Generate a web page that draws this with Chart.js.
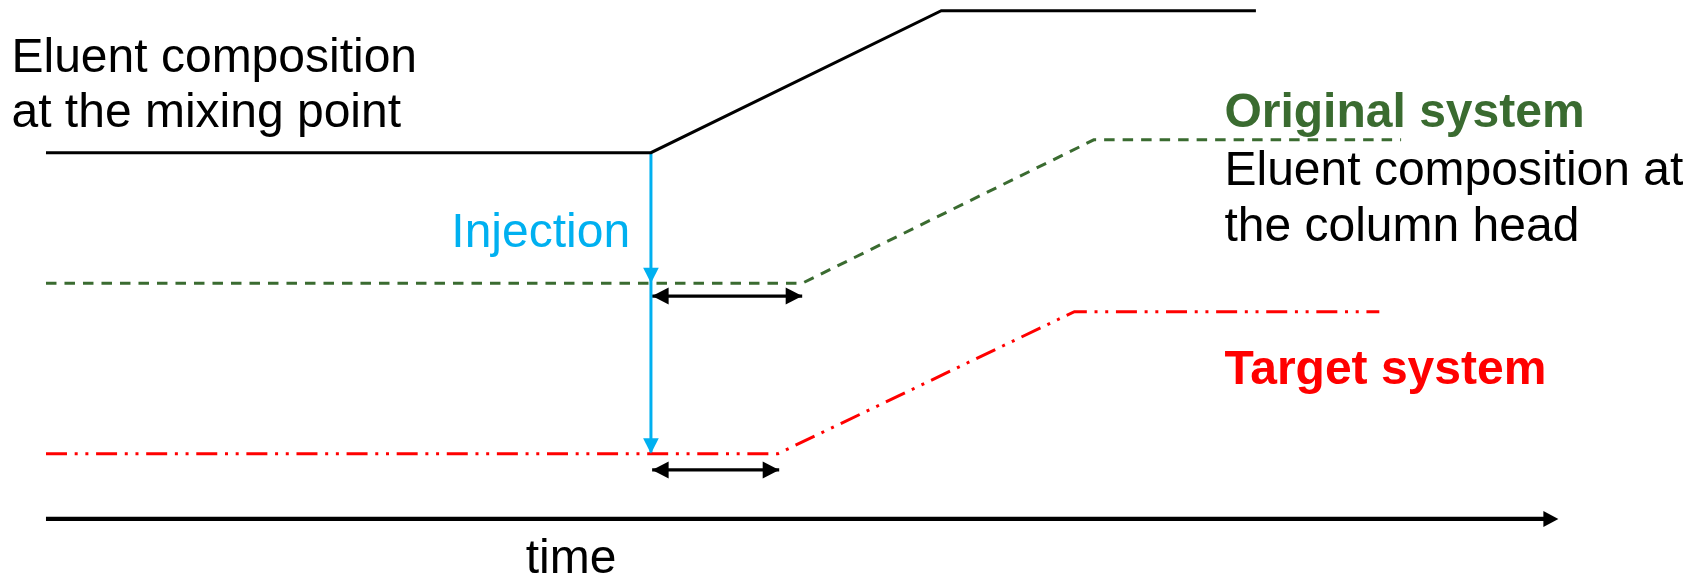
<!DOCTYPE html>
<html>
<head>
<meta charset="utf-8">
<script src="https://cdn.jsdelivr.net/npm/chart.js@4.4.1/dist/chart.umd.min.js"></script>
<style>
  html, body { margin: 0; padding: 0; background: #ffffff; }
  #grafico { display: block; }
</style>
</head>
<body>
<canvas id="grafico" width="1706" height="580"></canvas>
<script>
// ----------------------------------------------------------------------------
// Dados: tempo em unidades arbitrarias, composicao como nivel de exibicao
// (as tres curvas tem o mesmo degrau de 10 unidades, deslocadas na vertical)

const mixTime = [0, 50, 74, 100];
const mixLevel = [25.8, 25.8, 35.8, 35.8];

const originalTime = [0, 62.5, 86.6, 112];
const originalLevel = [16.6, 16.6, 26.7, 26.7];

const targetTime = [0, 60.5, 85, 110.2];
const targetLevel = [4.6, 4.6, 14.6, 14.6];

const injectionTime = 50;
const injectionLevels = [25.8, 16.6, 4.6]; // saida, chegada no original, chegada no alvo

const originalDelay = [50.1, 62.5];
const originalDelayLevel = 15.7;
const targetDelay = [50.1, 60.6];
const targetDelayLevel = 3.45;

const timeAxis = [0, 125];
const timeAxisLevel = 0;

const textos = [
    'Eluent composition',
    'at the mixing point',
    'Original system',
    'Eluent composition at',
    'the column head',
    'Target system',
    'Injection',
    'time'
];

// cores
const PRETO = '#000000';
const VERDE = '#3a6b30';
const VERMELHO = '#ff0000';
const AZUL = '#00b0f0';

function pontos(xs, ys) {
    return xs.map(function (x, i) { return { x: x, y: ys[i] }; });
}

function linhaHorizontal(xs, nivel) {
    return xs.map(function (x) { return { x: x, y: nivel }; });
}

// Plugin simples: desenha as pontas de seta e os textos usando as escalas
const setasETextos = {
    id: 'setasETextos',
    afterDatasetsDraw(chart, args, opts) {
        const ctx = chart.ctx;
        const sx = chart.scales.x;
        const sy = chart.scales.y;

        opts.pontas.forEach(function (p) {
            ctx.save();
            ctx.translate(sx.getPixelForValue(p.x), sy.getPixelForValue(p.y));
            ctx.rotate(p.angulo);
            ctx.beginPath();
            ctx.moveTo(0, 0);
            ctx.lineTo(-p.comp, -p.meia);
            ctx.lineTo(-p.comp, p.meia);
            ctx.closePath();
            ctx.fillStyle = p.cor;
            ctx.fill();
            ctx.restore();
        });

        opts.rotulos.forEach(function (r) {
            ctx.save();
            ctx.font = (r.negrito ? 'bold ' : '') + '48px "Liberation Sans", Arial, sans-serif';
            ctx.fillStyle = r.cor;
            ctx.textAlign = r.alinhar || 'left';
            ctx.textBaseline = 'alphabetic';
            ctx.fillText(textos[r.i], sx.getPixelForValue(r.x), sy.getPixelForValue(r.y));
            ctx.restore();
        });
    }
};

const DIREITA = 0, BAIXO = Math.PI / 2, ESQUERDA = Math.PI;

const config = {
    type: 'line',
    data: {
        datasets: [
            {
                label: 'mixing point',
                data: pontos(mixTime, mixLevel),
                borderColor: PRETO,
                borderWidth: 3
            },
            {
                label: 'original system',
                data: pontos(originalTime, originalLevel),
                borderColor: VERDE,
                borderWidth: 3,
                borderDash: [10.5, 8]
            },
            {
                label: 'target system',
                data: pontos(targetTime, targetLevel),
                borderColor: VERMELHO,
                borderWidth: 3,
                borderDash: [21, 7.7, 3, 7.7, 3, 7.7]
            },
            {
                label: 'injection',
                data: [{ x: injectionTime, y: injectionLevels[0] }, { x: injectionTime, y: injectionLevels[2] }],
                borderColor: AZUL,
                borderWidth: 3
            },
            {
                label: 'delay original',
                data: linhaHorizontal(originalDelay, originalDelayLevel),
                borderColor: PRETO,
                borderWidth: 3.3
            },
            {
                label: 'delay target',
                data: linhaHorizontal(targetDelay, targetDelayLevel),
                borderColor: PRETO,
                borderWidth: 3.3
            },
            {
                label: 'time axis',
                data: linhaHorizontal([timeAxis[0], timeAxis[1] - 0.8], timeAxisLevel),
                borderColor: PRETO,
                borderWidth: 4.3
            }
        ]
    },
    options: {
        responsive: false,
        animation: false,
        devicePixelRatio: 1,
        layout: { padding: 0 },
        elements: {
            point: { radius: 0, hoverRadius: 0 },
            line: { tension: 0, fill: false, borderCapStyle: 'butt', borderJoinStyle: 'miter' }
        },
        scales: {
            x: { type: 'linear', display: false, min: -3.8, max: 137.2 },
            y: { type: 'linear', display: false, min: -4.3, max: 36.55 }
        },
        plugins: {
            legend: { display: false },
            tooltip: { enabled: false },
            setasETextos: {
                pontas: [
                    { x: injectionTime, y: injectionLevels[1], angulo: BAIXO, comp: 15.5, meia: 7.8, cor: AZUL },
                    { x: injectionTime, y: injectionLevels[2], angulo: BAIXO, comp: 15.5, meia: 7.8, cor: AZUL },
                    { x: originalDelay[0], y: originalDelayLevel, angulo: ESQUERDA, comp: 16.5, meia: 8.5, cor: PRETO },
                    { x: originalDelay[1], y: originalDelayLevel, angulo: DIREITA, comp: 16.5, meia: 8.5, cor: PRETO },
                    { x: targetDelay[0], y: targetDelayLevel, angulo: ESQUERDA, comp: 16.5, meia: 8.5, cor: PRETO },
                    { x: targetDelay[1], y: targetDelayLevel, angulo: DIREITA, comp: 16.5, meia: 8.5, cor: PRETO },
                    { x: timeAxis[1], y: timeAxisLevel, angulo: DIREITA, comp: 15, meia: 8, cor: PRETO }
                ],
                rotulos: [
                    { i: 0, x: -2.85, y: 31.5, cor: PRETO },
                    { i: 1, x: -2.85, y: 27.6, cor: PRETO },
                    { i: 2, x: 97.4, y: 27.6, cor: VERDE, negrito: true },
                    { i: 3, x: 97.4, y: 23.55, cor: PRETO },
                    { i: 4, x: 97.4, y: 19.6, cor: PRETO },
                    { i: 5, x: 97.4, y: 9.5, cor: VERMELHO, negrito: true },
                    { i: 6, x: 33.5, y: 19.15, cor: AZUL },
                    { i: 7, x: 43.4, y: -3.8, cor: PRETO, alinhar: 'center' }
                ]
            }
        }
    },
    plugins: [setasETextos]
};

new Chart(document.getElementById('grafico'), config);
</script>
</body>
</html>
